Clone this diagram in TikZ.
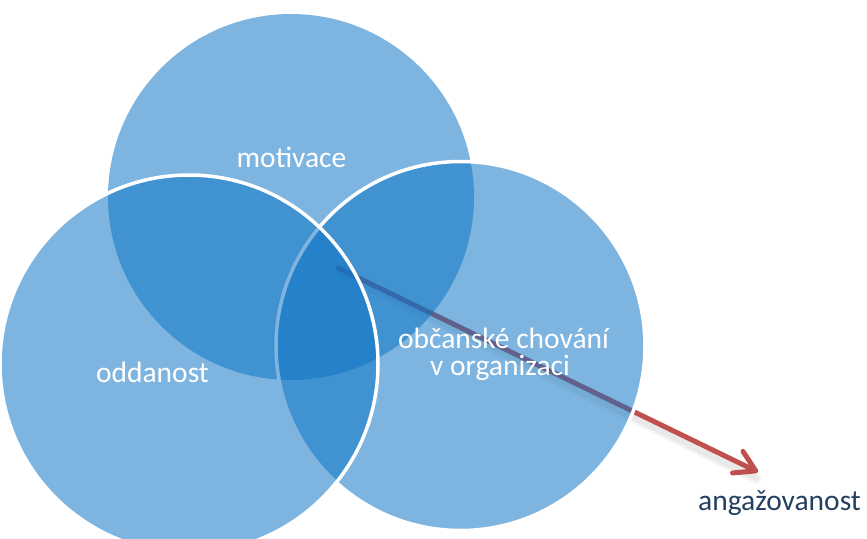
\documentclass[tikz,border=0pt]{standalone}
\usepackage{fontspec}
\setmainfont{Carlito}
\usetikzlibrary{arrows.meta}
\definecolor{vennfill}{RGB}{12,115,196}
\definecolor{arrowred}{RGB}{192,80,77}
\definecolor{navytext}{RGB}{36,63,96}
\begin{document}
\begin{tikzpicture}[x=1pt,y=-1pt,
  venn/.style={circle, inner sep=0pt, outer sep=0pt, fill=vennfill, fill opacity=0.53},
  vennedge/.style={draw=white, line width=3.5pt},
  lbl/.style={text=white, font=\fontsize{29.5}{34}\selectfont, anchor=base, inner sep=0pt},
  shadowwide/.style={black, opacity=0.04, line width=11pt, line cap=round},
  shadownarrow/.style={black, opacity=0.05, line width=6pt, line cap=round},
  arrowline/.style={arrowred, line width=5pt, line cap=round,
    -{Straight Barb[length=20pt, width=24pt, round]}},
]
\useasboundingbox (0,0) rectangle (867,538);
% arrow (under the circles)
\coordinate (s) at (338,268);
\coordinate (e) at (758,472);
\coordinate (ss) at (341,273);
\coordinate (es) at (756,478);
\draw[shadowwide] (ss) -- (es);
\draw[shadownarrow] (ss) -- (es);
\draw[arrowline] (s) -- (e);
% circles
\node[venn, minimum size=366pt] (mot) at (291,197) {};
\node[venn, vennedge, minimum size=369pt] (obc) at (460.5,346) {};
\node[venn, vennedge, minimum size=378pt] (odd) at (189,364) {};
% labels
\node[lbl] (tmot) at (291.5,167) {motivace};
\node[lbl] (todd) at (152.5,382) {oddanost};
\node[lbl] (tobc1) at (503.5,348) {občanské chování};
\node[lbl] (tobc2) at (500,375) {v organizaci};
\node[lbl, text=navytext] (tang) at (779.5,510) {angažovanost};
\end{tikzpicture}
\end{document}
